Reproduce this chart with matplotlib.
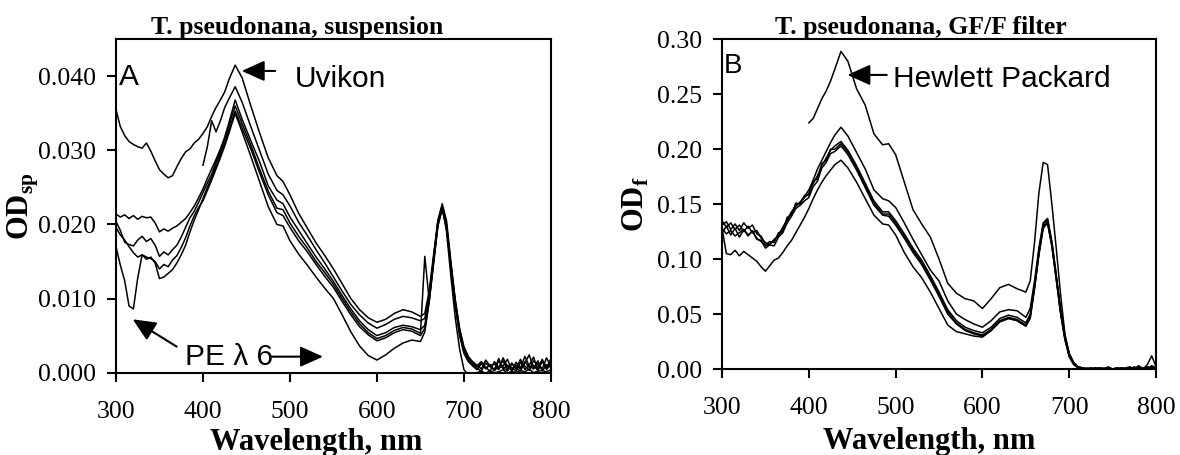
import numpy as np
import matplotlib
matplotlib.use("Agg")
import matplotlib.pyplot as plt
from matplotlib.ticker import FormatStrFormatter

plt.rcParams['mathtext.fontset'] = 'custom'
plt.rcParams['mathtext.rm'] = 'Liberation Serif'
plt.rcParams['mathtext.bf'] = 'Liberation Serif:bold'

# wavelength grid (nm) shared by all spectra
WL = ([300, 305, 310, 315, 320, 325, 330, 335, 340, 345,
       350, 355, 360, 365, 370, 375, 380, 385, 390, 395,
       400, 405, 410, 415, 420, 425, 430,
       437, 445, 455, 465, 475, 485, 492,
       500, 510, 520, 530, 540, 550, 560, 570, 580, 590,
       600, 610, 620, 630, 640, 650,
       655, 660, 665, 670, 675, 680, 685, 690, 695, 700,
       705, 710, 715, 720, 725, 730, 735, 740, 745, 750,
       755, 760, 765, 770, 775, 780, 785, 790, 795, 800])
WL400 = WL[20:]

# --- panel A, suspension, values in units of 0.001 OD ---
uvikon = [35.5, 33.2, 32.0, 31.2, 30.8, 30.5, 30.3, 31.0, 29.9, 28.6,
          27.4, 26.8, 26.3, 26.6, 27.8, 28.9, 29.8, 30.2, 31.0, 31.5,
          32.3, 33.2, 34.6, 35.8, 36.8, 37.9, 39.6,
          41.5, 39.8, 36.0, 32.4, 29.0, 26.6, 25.8,
          24.0, 21.5, 19.5, 17.5, 15.8, 14.0, 12.0, 10.0, 8.5, 7.4,
          6.8, 7.2, 8.0, 8.5, 8.2, 7.6,
          8.0, 11.0, 15.8, 20.5, 22.8, 20.5, 15.0, 9.8, 5.8, 3.2,
          1.8, 1.2, 0.8, 1.4, 0.6, 1.1, 0.3, 1.6, 0.7, 0.2,
          1.3, 0.5, 1.8, 0.4, 1.0, 2.1, 0.3, 1.5, 0.6, 1.9]
pe_400 = [28.0, 30.5, 34.0, 32.5, 34.0, 35.8, 37.0,
          38.6, 36.5, 33.2, 30.0, 26.8, 24.6, 24.0,
          22.5, 20.3, 18.5, 16.6, 14.8, 12.9, 11.0, 9.2, 7.8, 6.7,
          6.0, 6.5, 7.2, 7.6, 7.4, 7.0,
          7.3, 10.5, 15.5, 20.5, 22.5, 20.0, 14.5, 9.5, 5.5, 3.0,
          2.0, 1.5, 1.0, 0.5, 1.7, 0.9, 1.2, 0.4, 2.0, 0.8,
          0.3, 1.4, 0.6, 2.2, 0.9, 0.5, 1.6, 0.2, 1.1, 0.7]
pe_1 = [21.4, 21.0, 21.3, 20.8, 21.2, 20.7, 21.1, 20.9, 21.0, 20.2,
        19.0, 19.4, 19.1, 19.5, 19.8, 20.3, 20.8, 21.6, 22.5, 23.6,
        24.8, 26.2, 27.5, 28.8, 30.2, 31.8, 33.8,
        36.8, 34.2, 31.3, 28.5, 25.2, 23.3, 22.8,
        21.0, 19.2, 17.4, 15.6, 14.0, 12.3, 10.4, 8.6, 7.0, 5.8,
        5.0, 5.4, 6.1, 6.4, 6.2, 5.8,
        6.4, 10.0, 15.2, 20.3, 22.4, 19.8, 14.2, 9.0, 5.0, 2.6,
        1.5, 0.9, 0.4, 1.2, 0.7, 0.2, 1.5, 0.6, 0.9, 1.8,
        0.3, 1.0, 0.5, 1.3, 2.4, 0.6, 0.8, 1.7, 0.4, 1.2]
pe_2 = [20.4, 19.2, 17.6, 17.3, 17.1, 17.9, 18.4, 17.7, 18.1, 17.2,
        15.7, 16.3, 15.9, 16.6, 17.2, 18.3, 19.6, 20.9, 21.8, 23.0,
        24.3, 25.6, 26.8, 28.4, 29.8, 31.5, 33.4,
        36.0, 33.6, 30.7, 27.5, 24.5, 22.2, 22.0,
        20.2, 18.4, 16.8, 15.0, 13.5, 11.9, 10.0, 8.2, 6.6, 5.4,
        4.6, 5.0, 5.7, 6.1, 5.9, 5.3,
        15.7, 9.8, 15.0, 20.0, 22.2, 19.6, 14.0, 9.2, 5.2, 2.8,
        1.6, 1.1, 0.6, 0.2, 1.3, 0.8, 0.4, 1.9, 0.5, 1.0,
        0.7, 0.2, 1.4, 0.9, 0.3, 1.6, 1.1, 0.5, 2.0, 0.8]
pe_3 = [19.6, 18.6, 17.9, 17.0, 16.2, 15.6, 15.9, 15.3, 15.6, 14.8,
        12.7, 12.9, 13.4, 13.9, 14.8, 15.9, 17.2, 19.0, 20.6, 22.0,
        23.5, 25.0, 26.4, 27.9, 29.4, 31.0, 32.8,
        35.3, 33.0, 30.2, 27.0, 24.0, 21.6, 21.2,
        19.6, 17.8, 16.3, 14.6, 13.0, 11.5, 9.6, 7.8, 6.2, 5.1,
        4.3, 4.7, 5.4, 5.8, 5.6, 5.0,
        6.0, 9.6, 14.8, 19.8, 22.0, 19.4, 14.6, 9.8, 6.0, 3.5,
        2.2, 1.4, 0.9, 1.5, 0.5, 1.1, 0.3, 0.8, 1.6, 0.4,
        1.2, 0.6, 0.2, 1.5, 0.7, 1.0, 0.3, 1.8, 0.6, 1.3]
pe_4 = [17.0, 14.5, 12.4, 9.0, 8.6, 12.8, 15.9, 15.6, 15.4, 15.0,
        14.0, 14.6, 14.3, 15.2, 15.8, 16.9, 18.2, 19.8, 21.2, 22.3,
        23.2, 24.6, 26.0, 27.5, 29.0, 30.6, 32.4,
        35.0, 32.5, 29.2, 25.8, 22.4, 20.0, 19.8,
        17.8, 16.0, 14.5, 12.9, 11.4, 10.0, 7.8, 5.5, 3.6, 2.3,
        1.7, 2.4, 3.3, 4.0, 4.4, 4.2,
        5.5, 9.5, 14.6, 19.8, 22.6, 19.0, 13.0, 7.4, 3.2, 0.4,
        -0.3, -0.2, 0.0, 0.2, -0.1, 0.3, 0.0, 0.1, 0.4, -0.1,
        0.2, 0.0, 0.3, 0.1, 0.5, 0.0, 0.2, 0.3, 0.1, 0.4]

# --- panel B, GF/F filter, OD ---
hewlett = [0.224, 0.228, 0.237, 0.246, 0.253, 0.262, 0.273,
           0.289, 0.280, 0.255, 0.240, 0.214, 0.204, 0.205,
           0.195, 0.170, 0.145, 0.132, 0.120, 0.100, 0.078, 0.069, 0.064, 0.062,
           0.055, 0.064, 0.074, 0.077, 0.073, 0.070,
           0.080, 0.115, 0.160, 0.188, 0.186, 0.150, 0.110, 0.068, 0.032, 0.014,
           0.006, 0.002, 0.001, 0.000, 0.001, 0.000, 0.001, 0.000, 0.002, 0.000,
           0.001, 0.000, 0.001, 0.002, 0.000, 0.003, 0.000, 0.004, 0.012, 0.002]
filt_1 = [0.128, 0.123, 0.126, 0.121, 0.124, 0.127, 0.122, 0.125, 0.119, 0.116,
          0.112, 0.114, 0.117, 0.122, 0.129, 0.136, 0.143, 0.148, 0.152, 0.157,
          0.163, 0.172, 0.182, 0.190, 0.198, 0.206, 0.213,
          0.220, 0.212, 0.197, 0.182, 0.163, 0.155, 0.153,
          0.147, 0.133, 0.118, 0.104, 0.090, 0.080, 0.062, 0.050, 0.045, 0.041,
          0.038, 0.044, 0.052, 0.054, 0.053, 0.047,
          0.055, 0.080, 0.110, 0.133, 0.137, 0.116, 0.086, 0.055, 0.030, 0.014,
          0.006, 0.002, 0.001, 0.000, 0.000, 0.001, 0.000, 0.000, 0.001, 0.000,
          0.000, 0.001, 0.000, 0.000, 0.002, 0.000, 0.001, 0.000, 0.003, 0.001]
filt_2 = [0.135, 0.129, 0.133, 0.127, 0.131, 0.125, 0.130, 0.124, 0.126, 0.119,
          0.115, 0.113, 0.118, 0.121, 0.127, 0.135, 0.142, 0.149, 0.151, 0.156,
          0.160, 0.169, 0.176, 0.185, 0.192, 0.199, 0.203,
          0.207, 0.199, 0.185, 0.169, 0.153, 0.143, 0.143,
          0.135, 0.123, 0.110, 0.099, 0.085, 0.070, 0.054, 0.044, 0.038, 0.035,
          0.033, 0.038, 0.046, 0.049, 0.047, 0.042,
          0.050, 0.077, 0.107, 0.132, 0.136, 0.115, 0.085, 0.054, 0.029, 0.013,
          0.005, 0.002, 0.000, 0.001, 0.000, 0.000, 0.001, 0.000, 0.000, 0.000,
          0.001, 0.000, 0.000, 0.001, 0.000, 0.000, 0.000, 0.002, 0.001, 0.000]
filt_3 = [0.131, 0.134, 0.127, 0.132, 0.126, 0.133, 0.128, 0.131, 0.123, 0.121,
          0.113, 0.116, 0.115, 0.124, 0.125, 0.138, 0.140, 0.151, 0.150, 0.158,
          0.158, 0.171, 0.173, 0.187, 0.190, 0.200, 0.200,
          0.205, 0.197, 0.183, 0.167, 0.151, 0.141, 0.141,
          0.133, 0.121, 0.108, 0.097, 0.083, 0.068, 0.052, 0.042, 0.036, 0.033,
          0.031, 0.036, 0.044, 0.047, 0.045, 0.040,
          0.048, 0.075, 0.105, 0.130, 0.134, 0.113, 0.083, 0.052, 0.028, 0.012,
          0.005, 0.002, 0.001, 0.000, 0.000, 0.001, 0.000, 0.000, 0.001, 0.000,
          0.000, 0.000, 0.001, 0.000, 0.000, 0.002, 0.000, 0.001, 0.000, 0.001]
filt_4 = [0.124, 0.130, 0.122, 0.128, 0.120, 0.127, 0.121, 0.126, 0.118, 0.117,
          0.110, 0.113, 0.112, 0.120, 0.124, 0.133, 0.139, 0.146, 0.149, 0.153,
          0.156, 0.166, 0.171, 0.183, 0.188, 0.196, 0.198,
          0.203, 0.195, 0.181, 0.165, 0.149, 0.140, 0.139,
          0.131, 0.119, 0.106, 0.095, 0.081, 0.066, 0.050, 0.041, 0.035, 0.032,
          0.030, 0.035, 0.043, 0.046, 0.044, 0.039,
          0.047, 0.074, 0.104, 0.129, 0.133, 0.112, 0.082, 0.051, 0.027, 0.011,
          0.004, 0.001, 0.000, 0.000, 0.001, 0.000, 0.000, 0.001, 0.000, 0.000,
          0.000, 0.001, 0.000, 0.000, 0.000, 0.001, 0.000, 0.000, 0.002, 0.000]
filt_5 = [0.128, 0.105, 0.104, 0.108, 0.103, 0.107, 0.104, 0.101, 0.098, 0.093,
          0.089, 0.094, 0.099, 0.101, 0.106, 0.112, 0.117, 0.124, 0.131, 0.138,
          0.146, 0.155, 0.163, 0.170, 0.176, 0.181, 0.186,
          0.190, 0.183, 0.170, 0.155, 0.140, 0.132, 0.131,
          0.122, 0.106, 0.093, 0.083, 0.070, 0.055, 0.040, 0.034, 0.032, 0.030,
          0.029, 0.035, 0.043, 0.046, 0.044, 0.039,
          0.046, 0.073, 0.104, 0.128, 0.133, 0.112, 0.082, 0.051, 0.027, 0.012,
          0.005, 0.002, 0.000, 0.000, 0.000, 0.000, 0.001, 0.000, 0.000, 0.000,
          0.000, 0.000, 0.000, 0.001, 0.000, 0.000, 0.000, 0.001, 0.000, 0.000]

wl_ticks = [300, 400, 500, 600, 700, 800]
ticks_a = [0.000, 0.010, 0.020, 0.030, 0.040]
ticks_b = [0.00, 0.05, 0.10, 0.15, 0.20, 0.25, 0.30]

SERIF = 'Liberation Serif'
SANS = 'Liberation Sans'

fig = plt.figure(figsize=(11.8, 4.55), dpi=100)
ax_a = fig.add_axes([0.0983, 0.181, 0.3686, 0.7327])
ax_b = fig.add_axes([0.6119, 0.189, 0.3678, 0.7246])


def style_axes(ax, yticks, yfmt, ymax):
    ax.set_xlim(300, 800)
    ax.set_ylim(0, ymax)
    ax.set_xticks(wl_ticks)
    ax.set_yticks(yticks)
    ax.yaxis.set_major_formatter(FormatStrFormatter(yfmt))
    for s in ax.spines.values():
        s.set_linewidth(1.5)
    ax.tick_params(direction='out', length=6.5, width=1.5, top=False, right=False,
                   labelsize=18.5)
    ax.tick_params(axis='x', pad=14)
    ax.tick_params(axis='y', pad=8)
    for lab in ax.get_xticklabels() + ax.get_yticklabels():
        lab.set_fontfamily(SERIF)


def arrow(ax, tail, tip):
    ax.annotate('', xy=tip, xytext=tail, xycoords='axes fraction',
                textcoords='axes fraction',
                arrowprops=dict(arrowstyle='-|>,head_length=1.0,head_width=0.45',
                                mutation_scale=14, color='black', lw=1.5,
                                shrinkA=0, shrinkB=0))


# panel A
for wl, od in [(WL, uvikon), (WL400, pe_400), (WL, pe_1), (WL, pe_2), (WL, pe_3), (WL, pe_4)]:
    ax_a.plot(wl, np.array(od) / 1000.0, color='black', lw=1.1)
style_axes(ax_a, ticks_a, '%.3f', 0.045)
ax_a.set_title('T. pseudonana, suspension', family=SERIF, fontweight='bold',
               fontsize=18.5, x=0.416, pad=2)
ax_a.set_xlabel('Wavelength, nm', family=SERIF, fontweight='bold', fontsize=22)
ax_a.xaxis.set_label_coords(0.46, -0.21)
ax_a.xaxis.label.set_va('center')
ax_a.set_ylabel(r'$\mathbf{OD}_{\mathbf{sp}}$', fontsize=22)
ax_a.yaxis.set_label_coords(-0.212, 0.5)
ax_a.yaxis.label.set_va('center')
ax_a.text(0.007, 0.863, 'A', transform=ax_a.transAxes, family=SANS, fontsize=21.5,
          va='baseline')
ax_a.text(0.4115, 0.857, 'Uvikon', transform=ax_a.transAxes, family=SANS,
          fontsize=21.5, va='baseline')
arrow(ax_a, (0.366, 0.905), (0.289, 0.905))
ax_a.text(0.1586, 0.023, 'PE λ 6', transform=ax_a.transAxes, family=SANS,
          fontsize=21.5, va='baseline')
arrow(ax_a, (0.3586, 0.048), (0.4759, 0.048))
arrow(ax_a, (0.1395, 0.078), (0.0384, 0.160))

# panel B
for wl, od in [(WL400, hewlett), (WL, filt_1), (WL, filt_2), (WL, filt_3), (WL, filt_4), (WL, filt_5)]:
    ax_b.plot(wl, od, color='black', lw=1.1)
style_axes(ax_b, ticks_b, '%.2f', 0.30)
ax_b.set_title('T. pseudonana, GF/F filter', family=SERIF, fontweight='bold',
               fontsize=18.5, x=0.458, pad=2)
ax_b.set_xlabel('Wavelength, nm', family=SERIF, fontweight='bold', fontsize=22)
ax_b.xaxis.set_label_coords(0.477, -0.22)
ax_b.xaxis.label.set_va('center')
ax_b.set_ylabel(r'$\mathbf{OD}_{\mathbf{f}}$', fontsize=22)
ax_b.yaxis.set_label_coords(-0.198, 0.5)
ax_b.yaxis.label.set_va('center')
ax_b.text(0.004, 0.898, 'B', transform=ax_b.transAxes, family=SANS, fontsize=20,
          va='baseline')
ax_b.text(0.394, 0.855, 'Hewlett Packard', transform=ax_b.transAxes, family=SANS,
          fontsize=21.5, va='baseline')
arrow(ax_b, (0.3795, 0.892), (0.2887, 0.892))

fig.savefig('out.png', dpi=100)
